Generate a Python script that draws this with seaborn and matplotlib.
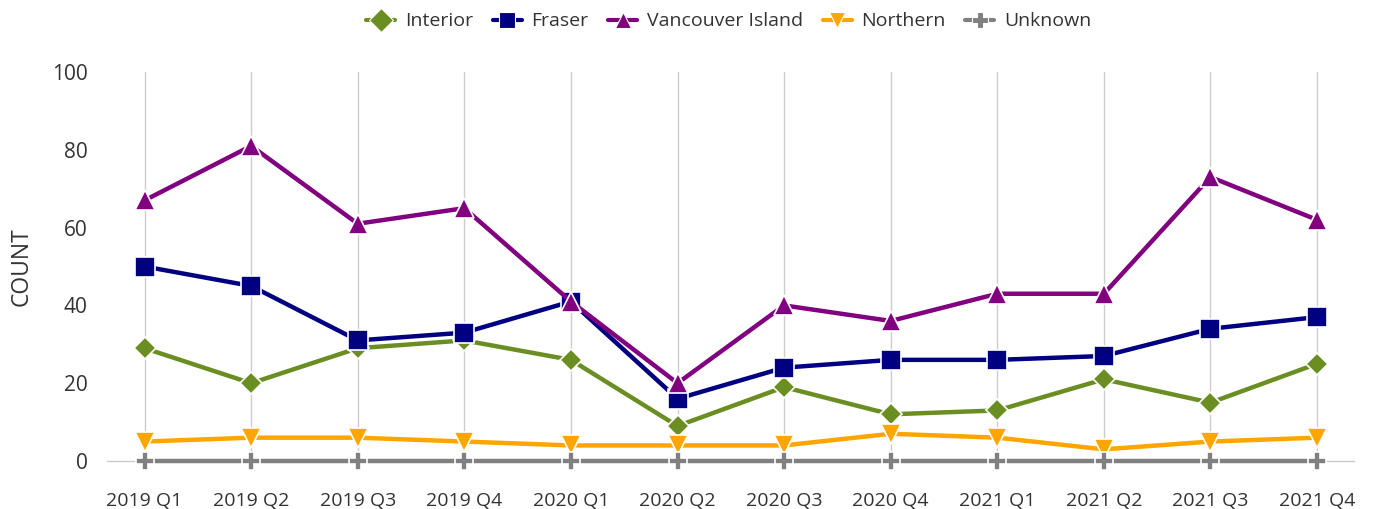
import matplotlib
matplotlib.use("Agg")
import matplotlib.pyplot as plt
import seaborn as sns
import pandas as pd
from matplotlib.lines import Line2D

quarters = ["2019 Q1", "2019 Q2", "2019 Q3", "2019 Q4", "2020 Q1", "2020 Q2",
            "2020 Q3", "2020 Q4", "2021 Q1", "2021 Q2", "2021 Q3", "2021 Q4"]
interior = [29, 20, 29, 31, 26, 9, 19, 12, 13, 21, 15, 25]
fraser = [50, 45, 31, 33, 41, 16, 24, 26, 26, 27, 34, 37]
vancouver_island = [67, 81, 61, 65, 41, 20, 40, 36, 43, 43, 73, 62]
northern = [5, 6, 6, 5, 4, 4, 4, 7, 6, 3, 5, 6]
unknown = [0, 0, 0, 0, 0, 0, 0, 0, 0, 0, 0, 0]

series_names = ["Interior", "Fraser", "Vancouver Island", "Northern", "Unknown"]
series_values = [interior, fraser, vancouver_island, northern, unknown]
colors = {"Interior": "#6B8E23", "Fraser": "#000080", "Vancouver Island": "#800080",
          "Northern": "#FFA500", "Unknown": "#808080"}
markers = {"Interior": "D", "Fraser": "s", "Vancouver Island": "^",
           "Northern": "v", "Unknown": "P"}
msizes = {"Interior": 11, "Fraser": 15, "Vancouver Island": 14,
          "Northern": 14, "Unknown": 13}

sns.set_theme(style="white")
plt.rcParams["font.family"] = ["Open Sans", "DejaVu Sans"]

fig = plt.figure(figsize=(13.75, 5.09), dpi=100)
ax = fig.add_axes([0.078, 0.0943, 0.907, 0.7642])

for name, vals in zip(series_names, series_values):
    df = pd.DataFrame({"x": range(len(quarters)), "y": vals})
    sns.lineplot(data=df, x="x", y="y", ax=ax, color=colors[name],
                 marker=markers[name], markersize=msizes[name],
                 markeredgecolor="white", markeredgewidth=1.2,
                 linewidth=3.2, clip_on=False, zorder=3)

ax.set_xlim(-0.35, len(quarters) - 1 + 0.35)
ax.set_ylim(0, 100)
ax.set_xticks(range(len(quarters)))
ax.set_xticklabels(quarters)
ax.set_yticks([0, 20, 40, 60, 80, 100])
ax.tick_params(axis="x", labelsize=14, colors="#333333", length=0, pad=22)
ax.tick_params(axis="y", labelsize=15, colors="#333333", length=0, pad=14)
ax.set_xlabel("")
ax.set_ylabel("COUNT", fontsize=16.5, color="#333333")
ax.yaxis.set_label_coords(-0.059, 0.5)
ax.grid(axis="x", color="#cccccc", linewidth=1)
ax.grid(axis="y", visible=False)
for s in ["top", "right", "left"]:
    ax.spines[s].set_visible(False)
ax.spines["bottom"].set_color("#cccccc")
ax.spines["bottom"].set_linewidth(1)

handles = [Line2D([0], [0], color=colors[n], marker=markers[n], linewidth=3,
                  markersize=12, markeredgecolor="white", markeredgewidth=0.8)
           for n in series_names]
fig.legend(handles, series_names, loc="upper center", bbox_to_anchor=(0.53, 1.01),
           ncol=5, frameon=False, fontsize=14, handlelength=1.5,
           columnspacing=1.0, handletextpad=0.5, labelcolor="#333333")

fig.savefig("out.png", dpi=100)
